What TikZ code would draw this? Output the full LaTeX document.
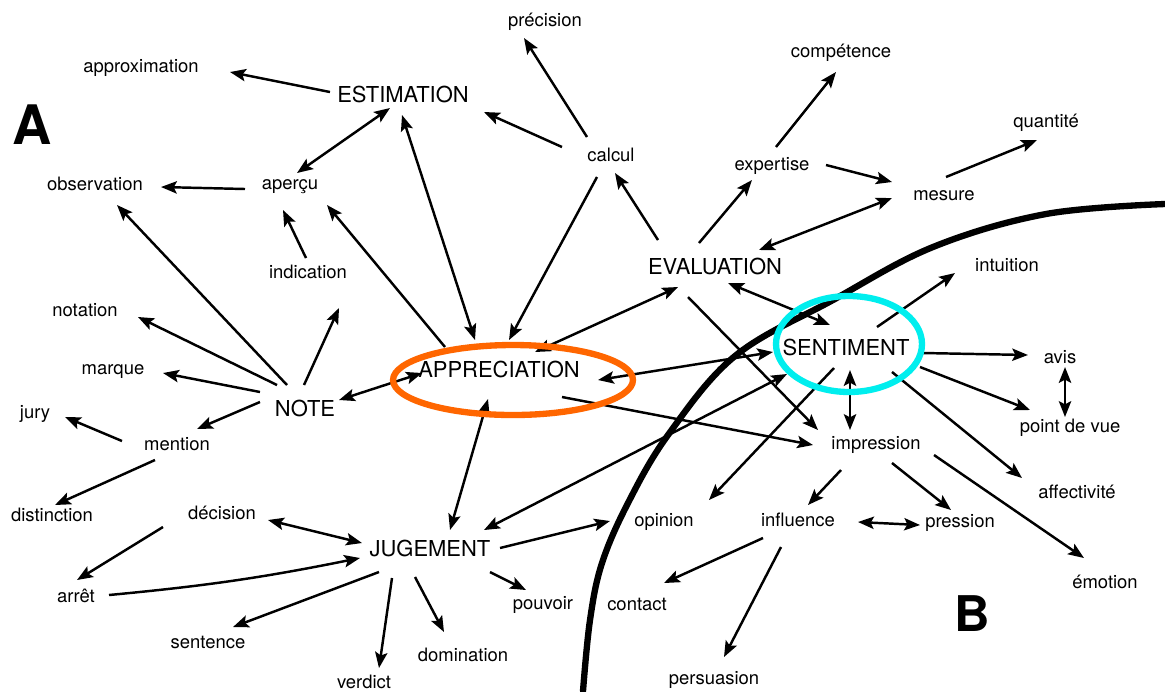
\documentclass[tikz,border=0pt]{standalone}
\usepackage{fontspec}
\setmainfont{TeX Gyre Heros}
\usetikzlibrary{arrows.meta}
\begin{document}
\begin{tikzpicture}[x=0.02cm,y=-0.02cm,
  lbl/.style={font=\fontsize{10.5}{12}\selectfont, inner sep=0pt},
  key/.style={font=\fontsize{12.5}{14}\selectfont, inner sep=0pt},
  zone/.style={font=\bfseries\fontsize{31}{34}\selectfont, inner sep=0pt},
  link/.style={line width=1.4pt, -{Stealth[length=9pt,width=7pt,inset=1.8pt]}},
  both/.style={line width=1.4pt, {Stealth[length=9pt,width=7pt,inset=1.8pt]}-{Stealth[length=9pt,width=7pt,inset=1.8pt]}},
  boundary/.style={line width=3.6pt, line cap=round},
  ring/.style={line width=3.6pt}
]
% page
\fill[white] (0,0) rectangle (1165,691);
\useasboundingbox (0,0) rectangle (1165,691);

% frontier between the two zones
\draw[boundary] plot[smooth, tension=0.6] coordinates {(583,691) (590,620) (602,563) (628,503) (668,435) (735,356) (833,300) (933,247) (1046,214) (1165,204)};

% zone letters
\node[zone] (zA) at (32,125) {A};
\node[zone, font=\bfseries\fontsize{28}{30}\selectfont] (zB) at (972,614) {B};

% key terms
\node[key] (est) at (403,94) {ESTIMATION};
\node[key] (eval) at (715,266) {EVALUATION};
\node[key] (appr) at (499,369) {APPRECIATION};
\node[key] (sent) at (846,347) {SENTIMENT};
\node[key] (note) at (305,408) {NOTE};
\node[key] (jug) at (430,548) {JUGEMENT};

% other terms
\node[lbl] (approx) at (141,68) {approximation};
\node[lbl] (prec) at (545,22) {précision};
\node[lbl] (calcul) at (611,155) {calcul};
\node[lbl] (comp) at (841,53) {compétence};
\node[lbl] (expert) at (772,166) {expertise};
\node[lbl] (quant) at (1046,123) {quantité};
\node[lbl] (mesure) at (944,196) {mesure};
\node[lbl] (obs) at (95,184) {observation};
\node[lbl] (apercu) at (290,187) {aperçu};
\node[lbl] (indic) at (308,272) {indication};
\node[lbl] (intuit) at (1007,265) {intuition};
\node[lbl] (notation) at (85,310) {notation};
\node[lbl] (marque) at (113,372) {marque};
\node[lbl] (jury) at (35,414) {jury};
\node[lbl] (mention) at (177,444) {mention};
\node[lbl] (distinct) at (52,515) {distinction};
\node[lbl] (decision) at (222,513) {décision};
\node[lbl] (arret) at (76,596) {arrêt};
\node[lbl] (sentence) at (208,642) {sentence};
\node[lbl] (verdict) at (364,682) {verdict};
\node[lbl] (domin) at (463,655) {domination};
\node[lbl] (pouvoir) at (543,605) {pouvoir};
\node[lbl] (opinion) at (664,522) {opinion};
\node[lbl] (influ) at (798,520) {influence};
\node[lbl] (pression) at (960,523) {pression};
\node[lbl] (contact) at (637,604) {contact};
\node[lbl] (persua) at (714,680) {persuasion};
\node[lbl] (impress) at (876,445) {impression};
\node[lbl] (avis) at (1060,357) {avis};
\node[lbl] (pdv) at (1070,428) {point de vue};
\node[lbl] (affect) at (1077,492) {affectivité};
\node[lbl] (emotion) at (1105,582) {émotion};

% ESTIMATION cluster
\draw[link] ([shift={(-73,-2)}]est.center) -- ([shift={(89,4)}]approx.center);
\draw[both] ([shift={(-13,14)}]est.center) -- ([shift={(7,-14)}]apercu.center);
\draw[both] ([shift={(-24,-29)}]appr.center) -- ([shift={(-1,21)}]est.center);
\draw[link] ([shift={(-49,-8)}]calcul.center) -- ([shift={(81,18)}]est.center);
\draw[link] ([shift={(-24,-18)}]calcul.center) -- ([shift={(-21,16)}]prec.center);
\draw[link] ([shift={(-14,22)}]calcul.center) -- ([shift={(10,-29)}]appr.center);
\draw[link] ([shift={(-54,-22)}]appr.center) -- ([shift={(37,18)}]apercu.center);
\draw[link] ([shift={(-2,-14)}]indic.center) -- ([shift={(-7,23)}]apercu.center);
\draw[link] ([shift={(-45,2)}]apercu.center) -- ([shift={(66,3)}]obs.center);

% NOTE cluster
\draw[link] ([shift={(-18,-23)}]note.center) -- ([shift={(22,21)}]obs.center);
\draw[link] ([shift={(-28,-23)}]note.center) -- ([shift={(53,7)}]notation.center);
\draw[link] ([shift={(-1,-23)}]note.center) -- ([shift={(31,36)}]indic.center);
\draw[link] ([shift={(-45,-16)}]note.center) -- ([shift={(50,1)}]marque.center);
\draw[link] ([shift={(-45,-6)}]note.center) -- ([shift={(20,-15)}]mention.center);
\draw[link] ([shift={(-55,-3)}]mention.center) -- ([shift={(30,3)}]jury.center);
\draw[link] ([shift={(-22,16)}]mention.center) -- ([shift={(3,-10)}]distinct.center);
\draw[both] ([shift={(-77,4)}]appr.center) -- ([shift={(34,-8)}]note.center);

% APPRECIATION links
\draw[both] ([shift={(36,-17)}]appr.center) -- ([shift={(-37,21)}]eval.center);
\draw[both] ([shift={(99,11)}]appr.center) -- ([shift={(-73,5)}]sent.center);
\draw[link] ([shift={(63,28)}]appr.center) -- ([shift={(-63,0)}]impress.center);
\draw[both] ([shift={(-11,30)}]appr.center) -- ([shift={(20,-18)}]jug.center);
\draw[both] ([shift={(-59,27)}]sent.center) -- ([shift={(54,-18)}]jug.center);
\draw[link] ([shift={(70,0)}]jug.center) -- ([shift={(-54,-1)}]opinion.center);

% EVALUATION cluster
\draw[link] ([shift={(-57,-26)}]eval.center) -- ([shift={(4,18)}]calcul.center);
\draw[link] ([shift={(-16,-23)}]eval.center) -- ([shift={(-20,14)}]expert.center);
\draw[link] ([shift={(4,-19)}]expert.center) -- ([shift={(-5,19)}]comp.center);
\draw[link] ([shift={(54,-1)}]expert.center) -- ([shift={(-52,-14)}]mesure.center);
\draw[link] ([shift={(2,-19)}]mesure.center) -- ([shift={(-9,17)}]quant.center);
\draw[both] ([shift={(-52,2)}]mesure.center) -- ([shift={(44,-16)}]eval.center);
\draw[both] ([shift={(13,17)}]eval.center) -- ([shift={(-16,-22)}]sent.center);
\draw[link] ([shift={(-27,31)}]eval.center) -- ([shift={(-58,-15)}]impress.center);

% SENTIMENT cluster
\draw[link] ([shift={(31,-20)}]sent.center) -- ([shift={(-52,8)}]intuit.center);
\draw[link] ([shift={(77,6)}]sent.center) -- ([shift={(-32,-2)}]avis.center);
\draw[link] ([shift={(74,20)}]sent.center) -- ([shift={(-40,-18)}]pdv.center);
\draw[both] ([shift={(5,10)}]avis.center) -- ([shift={(-5,-11)}]pdv.center);
\draw[link] ([shift={(46,25)}]sent.center) -- ([shift={(-55,-14)}]affect.center);
\draw[both] ([shift={(4,23)}]sent.center) -- ([shift={(-26,-15)}]impress.center);
\draw[link] ([shift={(-12,21)}]sent.center) -- ([shift={(45,-22)}]opinion.center);

% impression cluster
\draw[link] ([shift={(-35,25)}]impress.center) -- ([shift={(10,-15)}]influ.center);
\draw[link] ([shift={(16,18)}]impress.center) -- ([shift={(-9,-13)}]pression.center);
\draw[link] ([shift={(58,10)}]impress.center) -- ([shift={(-21,-24)}]emotion.center);
\draw[both] ([shift={(60,2)}]influ.center) -- ([shift={(-40,2)}]pression.center);
\draw[link] ([shift={(-35,18)}]influ.center) -- ([shift={(27,-21)}]contact.center);
\draw[link] ([shift={(-17,27)}]influ.center) -- ([shift={(10,-23)}]persua.center);

% JUGEMENT cluster
\draw[both] ([shift={(46,7)}]decision.center) -- ([shift={(-68,-5)}]jug.center);
\draw[link] ([shift={(-59,14)}]decision.center) -- ([shift={(1,-16)}]arret.center);
\draw[link] ([shift={(33,-1)}]arret.center) to[bend right=3] ([shift={(-70,10)}]jug.center);
\draw[link] ([shift={(-51,24)}]jug.center) -- ([shift={(25,-15)}]sentence.center);
\draw[link] ([shift={(-38,30)}]jug.center) -- ([shift={(15,-14)}]verdict.center);
\draw[link] ([shift={(-15,29)}]jug.center) -- ([shift={(-19,-23)}]domin.center);
\draw[link] ([shift={(60,24)}]jug.center) -- ([shift={(-17,-15)}]pouvoir.center);

% highlight rings
\draw[ring, color={rgb,255:red,255;green,102;blue,0}] (513,380) ellipse [x radius=2.4cm, y radius=0.7cm];
\draw[ring, color={rgb,255:red,0;green,238;blue,238}] (849,344) ellipse [x radius=1.46cm, y radius=0.96cm];
\end{tikzpicture}
\end{document}
